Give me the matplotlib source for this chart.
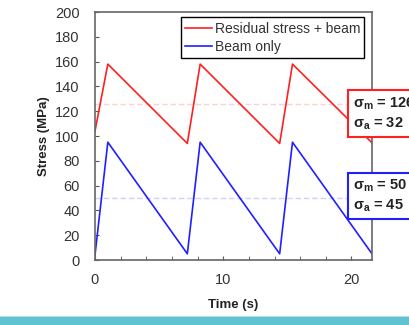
import matplotlib
matplotlib.use('Agg')
import matplotlib.pyplot as plt
from matplotlib.patches import Rectangle

plt.rcParams['font.family'] = ['Liberation Sans', 'DejaVu Sans']
plt.rcParams['mathtext.fontset'] = 'custom'
plt.rcParams['mathtext.rm'] = 'Liberation Sans:bold'
plt.rcParams['mathtext.bf'] = 'Liberation Sans:bold'

# stress history (time in s, stress in MPa)
t = [0, 1.0, 7.2, 8.2, 14.4, 15.4, 21.6]
resid = [104, 158, 94, 158, 94, 158, 94.5]
beam = [4, 95, 5, 95, 5, 95, 5]
mean_resid, amp_resid = 126, 32
mean_beam, amp_beam = 50, 45

fig = plt.figure(figsize=(4.1, 3.25), dpi=100)
ax = fig.add_axes([0.2317, 0.2, 0.6756, 0.763])

ax.axhline(125.5, color='#ffd0d0', lw=1, ls='--', dashes=(4, 2), zorder=1)
ax.axhline(mean_beam, color='#d0d0ff', lw=1, ls='--', dashes=(4, 2), zorder=1)
ax.plot(t, resid, color='#ff2020', lw=1.2, label='Residual stress + beam')
ax.plot(t, beam, color='#2020ff', lw=1.2, label='Beam only')

ax.set_xlim(0, 21.6)
ax.set_ylim(0, 200)
ax.set_xticks([0, 10, 20])
ax.set_xticks(range(0, 22, 2), minor=True)
ax.set_yticks(range(0, 201, 20))
ax.tick_params(direction='in', length=3, color='#555555', labelcolor='#333333',
               labelsize=10.5)
ax.tick_params(axis='y', pad=11)
ax.tick_params(axis='x', pad=9)
ax.tick_params(axis='x', which='minor', direction='in', length=3, color='#555555')
for s in ax.spines.values():
    s.set_color('#666666')
    s.set_linewidth(1.2)

ax.set_xlabel('Time (s)', fontsize=9.5, fontweight='bold', color='#222222', labelpad=9)
ax.set_ylabel('Stress (MPa)', fontsize=9.5, fontweight='bold', color='#222222', labelpad=4)

leg = ax.legend(loc='upper right', bbox_to_anchor=(0.972, 0.978), fontsize=10,
                fancybox=False, edgecolor='black', framealpha=1, handlelength=1.9,
                handletextpad=0.2, borderpad=0.3, labelspacing=0.3, borderaxespad=0)
leg.get_frame().set_linewidth(1.0)
for txt in leg.get_texts():
    txt.set_color('#333333')

def stats_box(y, mean, amp, col):
    fig.text(353 / 410, y, r'σ$_{\mathrm{m}}$ = %d' % mean + '\n' + r'σ$_{\mathrm{a}}$ = %d' % amp,
             fontsize=10.5, fontweight='bold', color='#222222', va='center', ha='left',
             linespacing=1.25,
             bbox=dict(boxstyle='square,pad=0.35', fc='white', ec=col, lw=1.5))

stats_box(1 - 113.7 / 325, mean_resid, amp_resid, '#ff2020')
stats_box(1 - 196 / 325, mean_beam, amp_beam, '#2020ff')

fig.patches.append(Rectangle((0, 0), 1, 8 / 325, transform=fig.transFigure,
                             fc='#5fc3d1', ec='none'))
fig.patches.append(Rectangle((0, 8 / 325), 1, 0.8 / 325, transform=fig.transFigure,
                             fc='#b5e1e7', ec='none'))

fig.savefig('out.png', dpi=100)
